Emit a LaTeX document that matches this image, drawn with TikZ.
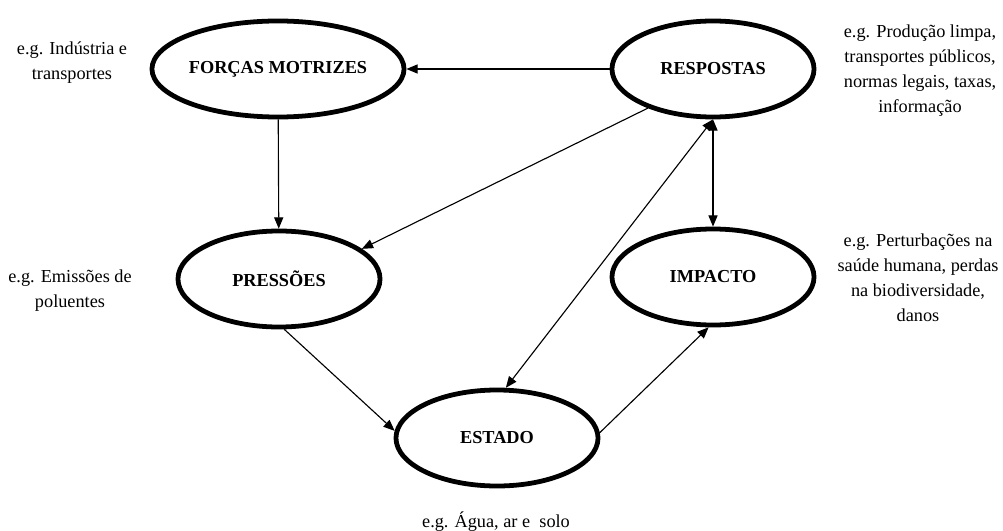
\documentclass[tikz,border=0pt]{standalone}
\usepackage{fontspec}
\setmainfont{Liberation Serif}
\usetikzlibrary{shapes.geometric,arrows.meta}

\tikzset{
  bloco/.style={ellipse,draw,line width=3.4pt,minimum width=5.05cm,
    minimum height=2.4cm,inner sep=0pt,font=\fontsize{13}{15}\selectfont\bfseries},
  nota/.style={align=center,font=\fontsize{13}{17.8}\selectfont},
  seta/.style={line width=0.8pt},
}

\begin{document}
\begin{tikzpicture}[x=0.025cm,y=-0.025cm,>={Triangle[length=8pt,width=6.5pt]}]
    \useasboundingbox (0,0) rectangle (1003,531);

    % Os cinco blocos do modelo.
    \node[bloco] (forcas) at (278,69) {FORÇAS MOTRIZES};
    \node[bloco] (resp) at (713,69) {RESPOSTAS};
    \node[bloco] (press) at (279,279) {PRESSÕES};
    \node[bloco] (imp) at (713,277) {IMPACTO};
    \node[bloco] (est) at (497,438) {ESTADO};

    % Exemplos de cada bloco.
    \node[nota] (nforcas) at (72,63) {e.g. Indústria e\\transportes};
    \node[nota] (npress) at (70,291) {e.g. Emissões de\\poluentes};
    \node[nota] (nresp) at (920,71) {e.g. Produção limpa,\\transportes públicos,\\normas legais, taxas,\\informação};
    \node[nota] (nimp) at (918,278) {e.g. Perturbações na\\saúde humana, perdas\\na biodiversidade,\\danos};
    \node[nota] (nest) at (496,522) {e.g. Água, ar e\ \ solo};

    % Ligações entre os blocos.
    \draw[seta,->] (resp) -- (forcas);
    \draw[seta,->] (forcas) -- (press);
    \draw[seta,->] (resp.211) -- (press.20);
    \draw[seta,<->] (resp) -- (imp);
    \draw[seta,<->] (est.80) -- (resp.south);
    \draw[seta,->] (press.-84) -- (est.176);
    \draw[seta,->] (est.3) -- (imp.-95);
\end{tikzpicture}
\end{document}
